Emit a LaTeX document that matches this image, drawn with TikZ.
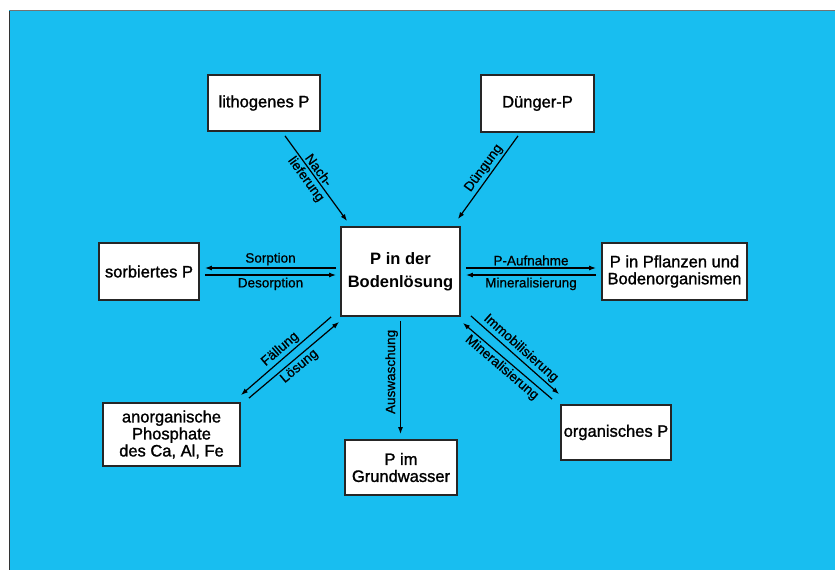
\documentclass[tikz,border=0pt]{standalone}
\usepackage{fontspec}
\setmainfont{Liberation Sans}
\newfontfamily\kastenschrift[RawFeature={embolden=1.3}]{Liberation Sans}
\newfontfamily\pfeilschrift[RawFeature={embolden=0.8}]{Liberation Sans}
\usetikzlibrary{arrows.meta}
\definecolor{hintergrund}{RGB}{24,190,240}
\begin{document}
\begin{tikzpicture}[x=1pt,y=-1pt,
		kasten/.style={draw=black!85,line width=1.8pt,fill=white,inner sep=0pt,align=center,font=\kastenschrift\fontsize{16.5}{17}\selectfont},
		pfeil/.style={line width=1.2pt,-{Latex[length=7pt,width=5pt]}},
		beschr/.style={font=\pfeilschrift\fontsize{13.5}{14}\selectfont,inner sep=2pt}]
		\useasboundingbox (0,0) rectangle (835,570);
		\fill[hintergrund] (9,10) rectangle (835,570);
		\draw[line width=1.5pt,black!55] (835,10.5) -- (9.5,10.5);
		\draw[line width=1.5pt,black!80] (9.5,10.5) -- (9.5,570);
		\node[kasten,minimum width=119,minimum height=89,font=\bfseries\fontsize{16.5}{23}\selectfont] (boden) at (400.5,271.5) {P in der\\Bodenlösung};
		\node[kasten,minimum width=112,minimum height=56] (lith) at (264,103) {lithogenes P};
		\node[kasten,minimum width=113,minimum height=57] (duenger) at (537.5,103.5) {Dünger-P};
		\node[kasten,minimum width=100,minimum height=57] (sorb) at (149,271.5) {sorbiertes P};
		\node[kasten,minimum width=145,minimum height=57] (pflanzen) at (674.5,271.5) {P in Pflanzen und\\Bodenorganismen};
		\node[kasten,minimum width=137,minimum height=63] (anorg) at (171.5,434.5) {anorganische\\Phosphate\\des Ca, Al, Fe};
		\node[kasten,minimum width=112,minimum height=55] (grund) at (401,467.5) {P im\\Grundwasser};
		\node[kasten,minimum width=110,minimum height=55] (org) at (616,432.5) {organisches P};
		\draw[pfeil] ([shift={(21,4)}]lith.south) -- ([shift={(7,-5)}]boden.north west) node[beschr,sloped,above,pos=0.45] {Nach-} node[beschr,sloped,below,pos=0.45] {lieferung};
		\draw[pfeil] ([shift={(-19.5,3)}]duenger.south) -- ([shift={(-3,-7)}]boden.north east) node[beschr,sloped,above,pos=0.45] {Düngung};
		\draw[pfeil] ([shift={(-4,-3.5)}]boden.west) -- ([shift={(5,-3.5)}]sorb.east) node[beschr,above,midway] {Sorption};
		\draw[pfeil] ([shift={(5,3.5)}]sorb.east) -- ([shift={(-4,3.5)}]boden.west) node[beschr,below,midway] {Desorption};
		\draw[pfeil] ([shift={(5,-3.5)}]boden.east) -- ([shift={(-5,-3.5)}]pflanzen.west) node[beschr,above,midway] {P-Aufnahme};
		\draw[pfeil] ([shift={(-5,3.5)}]pflanzen.west) -- ([shift={(5,3.5)}]boden.east) node[beschr,below,midway] {Mineralisierung};
		\draw[pfeil] ([shift={(-9,0)}]boden.south west) -- ([shift={(0,-7)}]anorg.north east) node[beschr,sloped,above,midway] {Fällung};
		\draw[pfeil] ([shift={(8,-4)}]anorg.north east) -- ([shift={(-1,5)}]boden.south west) node[beschr,sloped,below,midway] {Lösung};
		\draw[pfeil] ([shift={(10,-1)}]boden.south east) -- ([shift={(-1,-10)}]org.north west) node[beschr,sloped,above,midway] {Immobilisierung};
		\draw[pfeil] ([shift={(-8,-5)}]org.north west) -- ([shift={(2,6)}]boden.south east) node[beschr,sloped,below,midway] {Mineralisierung};
		\draw[pfeil,shorten <=4pt,shorten >=5pt] (boden.south) -- (boden.south |- grund.north) node[beschr,pos=0.45,rotate=90,anchor=south] {Auswaschung};
	\end{tikzpicture}
\end{document}
